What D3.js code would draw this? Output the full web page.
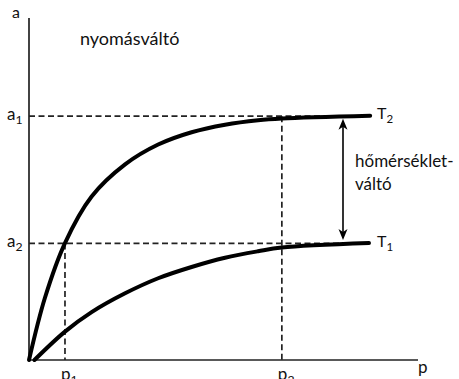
<!DOCTYPE html>
<html>
<head>
<meta charset="utf-8">
<script src="https://cdn.jsdelivr.net/npm/d3@7/dist/d3.min.js"></script>
<style>
  html, body { margin: 0; padding: 0; background: #fff; }
  svg { display: block; font-family: Lato, "Open Sans", sans-serif; }
</style>
</head>
<body>
<svg id="chart" width="459" height="379"></svg>
<script>
// Isotherm curves: adsorbed amount a versus pressure p at two temperatures
const pT2 = [0, 4.1, 9.25, 16.1, 24.7, 33.2, 41.8, 50.4, 58.9, 65, 87.7];
const aT2 = [0, 18.2, 34.2, 47.8, 57.2, 63.0, 66.6, 68.8, 70.1, 70.6, 71.4];
const pT1 = [1.4, 9.25, 16.1, 24.7, 33.2, 41.8, 50.4, 58.9, 65, 87.4];
const aT1 = [0, 8.3, 14.0, 19.5, 23.9, 27.2, 29.9, 31.8, 32.9, 34.2];

// Reference levels
const aLevels = [{ name: "a", sub: "1", value: 71.3 }, { name: "a", sub: "2", value: 34.1 }];
const pLevels = [{ name: "p", sub: "1", value: 9.25 }, { name: "p", sub: "2", value: 65 }];
const curveLabels = [{ name: "T", sub: "2" }, { name: "T", sub: "1" }];
const pEnd = 87.7;

const svg = d3.select("#chart");
const x = d3.scaleLinear().domain([0, 100]).range([29, 418]);
const y = d3.scaleLinear().domain([0, 100]).range([360, 18]);

// Axes
svg.append("line").attr("x1", x(0)).attr("x2", x(0)).attr("y1", y(0)).attr("y2", y(100))
  .attr("stroke", "#222").attr("stroke-width", 1.7);
svg.append("line").attr("x1", x(0)).attr("x2", x(100)).attr("y1", y(0)).attr("y2", y(0))
  .attr("stroke", "#222").attr("stroke-width", 1.7);

// Dashed guide lines
const dash = "6,3.5";
function guide(x1, x2, y1, y2) {
  svg.append("line").attr("x1", x1).attr("x2", x2).attr("y1", y1).attr("y2", y2)
    .attr("stroke", "#222").attr("stroke-width", 1.7).attr("stroke-dasharray", dash);
}
const gA = aLevels.map(d => d.value);
guide(x(0), x(pEnd), y(gA[0]), y(gA[0]));
guide(x(0), x(pEnd), y(gA[1]), y(gA[1]));
// p1 drops from the a2 level, p2 from the a1 level
guide(x(pLevels[0].value), x(pLevels[0].value), y(gA[1]), y(0));
guide(x(pLevels[1].value), x(pLevels[1].value), y(gA[0]), y(0));

// Curves
const line = d3.line().x(d => x(d[0])).y(d => y(d[1])).curve(d3.curveCatmullRom.alpha(0.5));
[[pT2, aT2], [pT1, aT1]].forEach(([ps, as]) => {
  svg.append("path").datum(ps.map((p, i) => [p, as[i]]))
    .attr("d", line).attr("fill", "none").attr("stroke", "#000")
    .attr("stroke-width", 4).attr("stroke-linecap", "round");
});

// Double-headed arrow between the two isotherms
const ax = 343;
const yTop = y(aT2[aT2.length - 1]) + 3, yBot = y(aT1[aT1.length - 1]) - 3;
svg.append("line").attr("x1", ax).attr("x2", ax).attr("y1", yTop + 4).attr("y2", yBot - 4)
  .attr("stroke", "#000").attr("stroke-width", 1.6);
svg.append("path")
  .attr("d", `M${ax},${yTop} L${ax + 4.5},${yTop + 11} L${ax},${yTop + 8} L${ax - 4.5},${yTop + 11} Z`)
  .attr("fill", "#000");
svg.append("path")
  .attr("d", `M${ax},${yBot} L${ax + 4.5},${yBot - 11} L${ax},${yBot - 8} L${ax - 4.5},${yBot - 11} Z`)
  .attr("fill", "#000");

// Text helpers
function subLabel(xp, yp, name, sub, size) {
  const t = svg.append("text").attr("x", xp).attr("y", yp)
    .attr("font-size", size).attr("fill", "#111");
  t.append("tspan").text(name);
  t.append("tspan").attr("font-size", size * 0.72).attr("dy", 4).text(sub);
  return t;
}

// Axis titles
svg.append("text").attr("x", 12).attr("y", 18).attr("font-size", 16).attr("fill", "#111").text("a");
svg.append("text").attr("x", 418).attr("y", 373).attr("font-size", 17).attr("fill", "#111").text("p");

// Level labels
aLevels.forEach(d => subLabel(7, y(d.value) + 4, d.name, d.sub, 17));
pLevels.forEach(d => subLabel(x(d.value) - 4, 380, d.name, d.sub, 17));

// Curve labels
subLabel(377, y(aT2[aT2.length - 1]) + 3, curveLabels[0].name, curveLabels[0].sub, 16);
subLabel(377, y(aT1[aT1.length - 1]) + 4, curveLabels[1].name, curveLabels[1].sub, 16);

// Annotations
svg.append("text").attr("x", 80).attr("y", 45).attr("font-size", 18).attr("fill", "#111").text("nyomásváltó");
svg.append("text").attr("x", 355).attr("y", 167).attr("font-size", 17).attr("fill", "#111").text("hőmérséklet-");
svg.append("text").attr("x", 355).attr("y", 190).attr("font-size", 17).attr("fill", "#111").text("váltó");
</script>
</body>
</html>
